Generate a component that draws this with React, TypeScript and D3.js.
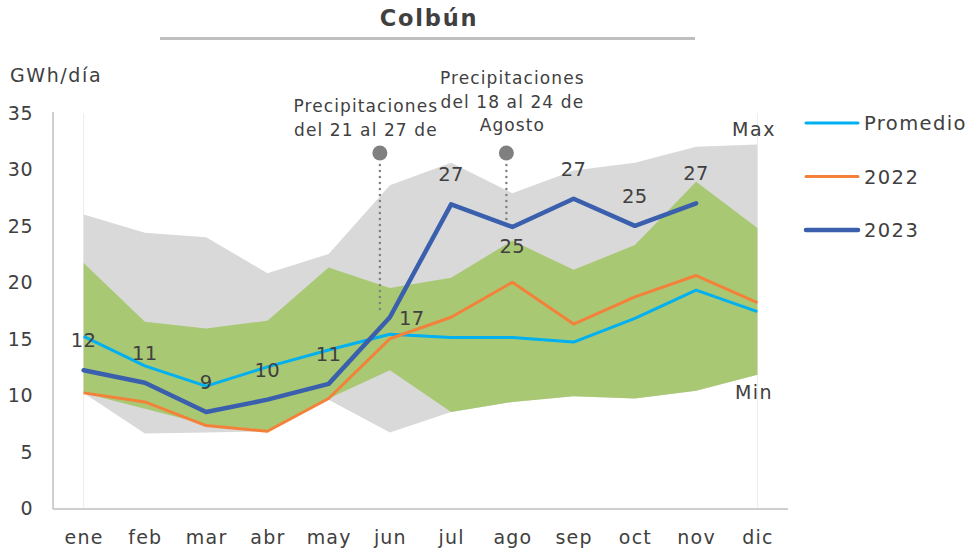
import React from "react";
import * as d3 from "d3";

const months = ["ene", "feb", "mar", "abr", "may", "jun", "jul", "ago", "sep", "oct", "nov", "dic"];
const maxVals = [26.0, 24.4, 24.0, 20.8, 22.5, 28.6, 30.6, 27.9, 29.9, 30.6, 32.0, 32.2];
const minVals = [10.2, 6.6, 6.7, 6.8, 9.6, 6.7, 8.5, 9.4, 9.9, 9.7, 10.4, 11.8];
const bandUpper = [21.7, 16.5, 15.9, 16.6, 21.3, 19.5, 20.4, 23.7, 21.1, 23.3, 28.9, 24.8];
const bandLower = [10.2, 8.8, 7.4, 6.9, 9.7, 12.2, 8.5, 9.4, 9.9, 9.7, 10.4, 11.8];
const promedio = [15.2, 12.6, 10.8, 12.5, 14.0, 15.4, 15.1, 15.1, 14.7, 16.8, 19.3, 17.4];
const y2022 = [10.2, 9.4, 7.3, 6.8, 9.7, 15.0, 16.9, 20.0, 16.3, 18.7, 20.6, 18.2];
const y2023 = [12.2, 11.1, 8.5, 9.6, 11.0, 16.9, 26.9, 24.9, 27.4, 25.0, 27.0];
const labels2023 = ["12", "11", "9", "10", "11", "17", "27", "25", "27", "25", "27"];
const labelPlacement = ["above", "above", "above", "above", "above", "right", "above", "below", "above", "above", "above"];
const yTicks = [0, 5, 10, 15, 20, 25, 30, 35];
const annotation1 = ["Precipitaciones", "del 21 al 27 de"];
const annotation2 = ["Precipitaciones", "del 18 al 24 de", "Agosto"];

const FONT = "'DejaVu Sans', sans-serif";
const TEXT = "#404040";

export default function App() {
  const W = 971, H = 551;
  const left = 53, right = 788, top = 113, bottom = 508;
  const x = d3.scalePoint<string>().domain(months).range([left, right]).padding(0.5);
  const y = d3.scaleLinear().domain([0, 35]).range([bottom, top]);
  const xi = (i: number) => x(months[i]) as number;

  const area = (hi: number[], lo: number[]) =>
    d3.area<number>().x((_, i) => xi(i)).y0((_, i) => y(lo[i])).y1((d) => y(d))(hi) || "";
  const line = (vals: number[]) => d3.line<number>().x((_, i) => xi(i)).y((d) => y(d))(vals) || "";

  const annots = [
    { month: "jun", dx: -10, lines: annotation1, textDx: -14, firstBaseline: 112, y1: 313 },
    { month: "ago", dx: -6, lines: annotation2, textDx: 6, firstBaseline: 84, y1: 222 },
  ];

  const legend = [
    { name: "Promedio", color: "#00B0F0", w: 3 },
    { name: "2022", color: "#F4813A", w: 3 },
    { name: "2023", color: "#3A5FAD", w: 4.5 },
  ];

  return (
    <svg width={W} height={H} style={{ position: "absolute", left: 0, top: 0 }} fontFamily={FONT}>
      <rect width={W} height={H} fill="#fff" />
      <text x={429} y={26} textAnchor="middle" fontSize={22.5} fontWeight="bold" fill={TEXT} letterSpacing={1.8}>Colbún</text>
      <line x1={160} x2={695} y1={38.5} y2={38.5} stroke="#BFBFBF" strokeWidth={3} />
      <text x={10} y={82} fontSize={19} fill={TEXT} letterSpacing={1.6}>GWh/día</text>

      {[0, 11].map((i) => (
        <line key={i} x1={xi(i)} x2={xi(i)} y1={top} y2={bottom} stroke="#ECECEC" strokeWidth={1} />
      ))}

      <path d={area(maxVals, minVals)} fill="#D9D9D9" />
      <path d={area(bandUpper, bandLower)} fill="#A9C873" />

      <line x1={left} x2={left} y1={top - 1} y2={bottom + 1} stroke="#BFBFBF" strokeWidth={1.5} />
      <line x1={left} x2={right} y1={bottom + 1} y2={bottom + 1} stroke="#BFBFBF" strokeWidth={1.5} />
      {yTicks.map((t) => (
        <text key={t} x={33} y={y(t) + 7} textAnchor="end" fontSize={19} fill={TEXT} letterSpacing={0.5}>{t}</text>
      ))}
      {months.map((m) => (
        <text key={m} x={(x(m) as number) + 0.5} y={544} textAnchor="middle" fontSize={19} fill={TEXT} letterSpacing={1.2}>{m}</text>
      ))}

      {annots.map((a, k) => {
        const cx = (x(a.month) as number) + a.dx;
        return (
          <g key={k}>
            {a.lines.map((l, j) => (
              <text key={j} x={cx + a.textDx} y={a.firstBaseline + j * 23.5} textAnchor="middle" fontSize={17} fill={TEXT} letterSpacing={1.1}>{l}</text>
            ))}
            <line x1={cx} x2={cx} y1={165} y2={a.y1} stroke="#808080" strokeWidth={2.5} strokeDasharray="0 6" strokeLinecap="round" />
            <circle cx={cx} cy={153} r={7.5} fill="#808080" />
          </g>
        );
      })}

      <path d={line(promedio)} fill="none" stroke="#00B0F0" strokeWidth={3} strokeLinejoin="round" />
      <path d={line(y2022)} fill="none" stroke="#F4813A" strokeWidth={3} strokeLinejoin="round" />
      <path d={line(y2023)} fill="none" stroke="#3A5FAD" strokeWidth={4.5} strokeLinejoin="round" strokeLinecap="round" />

      {y2023.map((v, i) => {
        const p = labelPlacement[i];
        const lx = p === "right" ? xi(i) + 22 : xi(i);
        const ly = p === "above" ? y(v) - 30 : p === "below" ? y(v) + 19 : y(v) + 1;
        return (
          <text key={i} x={lx} y={ly + 7} textAnchor="middle" fontSize={19.5} fill={TEXT} letterSpacing={0.5}>{labels2023[i]}</text>
        );
      })}

      <text x={754} y={136} textAnchor="middle" fontSize={19} fill={TEXT} letterSpacing={1.5}>Max</text>
      <text x={754} y={399} textAnchor="middle" fontSize={19} fill={TEXT} letterSpacing={1.5}>Min</text>

      {legend.map((l, i) => {
        const ly = 123 + i * 53.5;
        return (
          <g key={l.name}>
            <line x1={806} x2={858} y1={ly} y2={ly} stroke={l.color} strokeWidth={l.w} strokeLinecap="round" />
            <text x={864} y={ly + 7} fontSize={19.5} fill={TEXT} letterSpacing={1.4}>{l.name}</text>
          </g>
        );
      })}
    </svg>
  );
}
